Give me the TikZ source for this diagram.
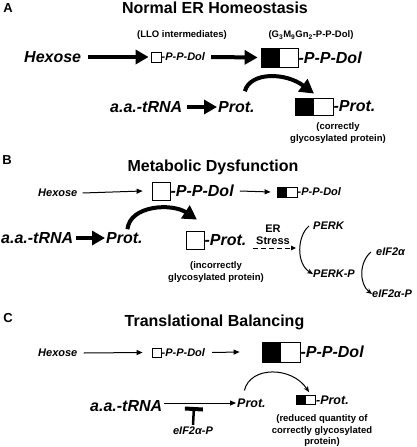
\documentclass[tikz,border=0pt]{standalone}
\usepackage{fontspec}
\setmainfont{Liberation Sans}
\usetikzlibrary{arrows.meta,calc}
\begin{document}
\begin{tikzpicture}[x=1pt,y=-1pt,
 lab/.style={font=\fontsize{13}{13}\selectfont\bfseries, inner sep=0},
 ttl/.style={font=\fontsize{16}{16}\selectfont\bfseries, inner sep=0},
 bigt/.style={font=\fontsize{16}{16}\selectfont\bfseries\itshape, inner sep=0, anchor=west},
 midt/.style={font=\fontsize{12.5}{12.5}\selectfont\bfseries\itshape, inner sep=0, anchor=west},
 smlt/.style={font=\fontsize{11}{11}\selectfont\bfseries\itshape, inner sep=0, anchor=west},
 note/.style={font=\fontsize{9.5}{11.5}\selectfont\bfseries, inner sep=0, align=center},
 wbox/.style={draw, line width=0.8pt, fill=white, inner sep=0},
 hbox/.style={wbox, path picture={\fill[black] (path picture bounding box.north west) rectangle (path picture bounding box.south);}},
 thickarr/.style={line width=4pt, -{Triangle[length=13pt,width=14pt]}},
 curvarr/.style={line width=4pt, -{Triangle[length=14pt,width=15pt]}},
 thinarr/.style={line width=1pt, -{Triangle[length=6pt,width=5pt]}},
 dasharr/.style={line width=1pt, dash pattern=on 5pt off 3pt, -{Triangle[length=5pt,width=4.5pt]}},
 smallarr/.style={line width=1pt, -{Stealth[length=6pt,width=5pt]}},
 inhib/.style={line width=2.5pt, -{Bar[width=18pt,line width=4pt]}},
]
\fill[white] (0,0) rectangle (416,447);
\useasboundingbox (0,0) rectangle (416,447);

% ---------- Panel A ----------
\node[lab] (lA) at (8,8) {A};
\node[ttl] (tA) at (215,8) {Normal ER Homeostasis};
\node[note] (lloA) at (182,35) {(LLO intermediates)};
\node[note] (g3A) at (311,35) {(G\textsubscript{3}M\textsubscript{9}Gn\textsubscript{2}-P-P-Dol)};
\node[bigt] (hexA) at (24,57) {Hexose};
\node[wbox, minimum size=10pt] (b1A) at (156,57) {};
\node[smlt] (d1A) at (b1A.east) {-P-P-Dol};
\node[hbox, minimum width=37pt, minimum height=19pt] (b2A) at (279.5,57.5) {};
\node[bigt] (d2A) at (b2A.east) {-P-P-Dol};
\draw[thickarr] ([xshift=7pt]hexA.east) -- ([xshift=-2pt]b1A.west);
\draw[thickarr] ([xshift=6pt]d1A.east) -- ([xshift=-3pt]b2A.west);
\node[bigt] (aaA) at (110,107) {a.a.-tRNA};
\node[bigt] (protA) at (218,107) {Prot.};
\draw[thickarr] ([xshift=5pt]aaA.east) -- ([xshift=-1pt]protA.west);
\node[hbox, minimum width=38pt, minimum height=17pt] (b3A) at (314,106.5) {};
\node[bigt] (p3A) at (b3A.east) {-Prot.};
\node[note] (cgA) at (338,133) {(correctly\\glycosylated protein)};
\draw[curvarr] ($(protA.north east)+(-10,-10)$) .. controls (250,72) and (285,72) .. ($(b3A.north)+(0,-4)$);

% ---------- Panel B ----------
\node[lab] (lB) at (7,160) {B};
\node[ttl] (tB) at (213,167) {Metabolic Dysfunction};
\node[smlt] (hexB) at (38,193) {Hexose};
\node[wbox, minimum size=18pt] (b1B) at (161,191) {};
\node[bigt] (d1B) at (b1B.east) {-P-P-Dol};
\node[hbox, minimum width=20pt, minimum height=10pt] (b2B) at (287,192) {};
\node[smlt] (d2B) at (b2B.east) {-P-P-Dol};
\draw[thinarr] ([xshift=5pt]hexB.east) -- ([xshift=-9pt]b1B.west);
\draw[thinarr] ([xshift=6pt]d1B.east) -- ([xshift=-6pt]b2B.west);
\node[bigt] (aaB) at (1,238) {a.a.-tRNA};
\node[bigt] (protB) at (106,238) {Prot.};
\draw[thickarr] ([xshift=3pt]aaB.east) -- ([xshift=-1pt]protB.west);
\node[wbox, minimum size=18pt] (b3B) at (195,240) {};
\node[bigt] (p3B) at (b3B.east) {-Prot.};
\node[note] (igB) at (216,272) {(incorrectly\\glycosylated protein)};
\draw[curvarr] ($(protB.north)+(3,-3)$) .. controls (130,205) and (172,203) .. ($(b3B.north)+(2,-11)$);
\coordinate (stressend) at (296,248);
\draw[dasharr] ([xshift=6pt,yshift=-8pt]p3B.east) -- (stressend);
\node[note, font=\fontsize{11}{12}\selectfont\bfseries] (erB) at (273,235) {ER\\Stress};
\node[smlt] (perk) at (313,226) {PERK};
\node[smlt] (perkp) at (313,274) {PERK-P};
\draw[smallarr] ([xshift=-4pt]perk.west) .. controls (297,236) and (296,264) .. (perkp.west);
\node[smlt] (eif) at (376,252) {eIF2α};
\node[smlt] (eifp) at (372,294) {eIF2α-P};
\draw[smallarr] ([xshift=-5pt]eif.west) .. controls (359,262) and (359,284) .. (eifp.west);

% ---------- Panel C ----------
\node[lab] (lC) at (8,318) {C};
\node[ttl] (tC) at (214.5,322) {Translational Balancing};
\node[smlt] (hexC) at (38,353) {Hexose};
\node[wbox, minimum size=9pt] (b1C) at (156.5,352.5) {};
\node[smlt] (d1C) at (b1C.east) {-P-P-Dol};
\node[hbox, minimum width=38pt, minimum height=20pt] (b2C) at (281,352) {};
\node[bigt] (d2C) at (b2C.east) {-P-P-Dol};
\draw[thinarr] ([xshift=6pt]hexC.east) -- ([xshift=-9pt]b1C.west);
\draw[thinarr] ([xshift=7pt]d1C.east) -- ([xshift=-22pt]b2C.west);
\node[bigt] (aaC) at (90,406) {a.a.-tRNA};
\node[midt] (protC) at (237,403) {Prot.};
\draw[thinarr] ([xshift=2pt,yshift=3pt]aaC.east) -- ([xshift=-1pt]protC.west);
\node[smlt, font=\fontsize{11}{11}\selectfont\bfseries\itshape, anchor=center] (eifC) at (193,431) {eIF2α-P};
\coordinate (tbar) at (194,407);
\draw[inhib] ([yshift=2pt]eifC.north) -- (tbar);
\node[hbox, minimum width=19pt, minimum height=9pt] (b3C) at (306,400) {};
\node[midt] (p3C) at (b3C.east) {-Prot.};
\node[note] (rqC) at (322,431) {(reduced quantity of\\correctly glycosylated\\protein)};
\draw[smallarr] ($(protC.north)+(-7,-8)$) .. controls (250,366) and (292,366) .. ($(b3C.north)+(3,-3)$);
\end{tikzpicture}
\end{document}
